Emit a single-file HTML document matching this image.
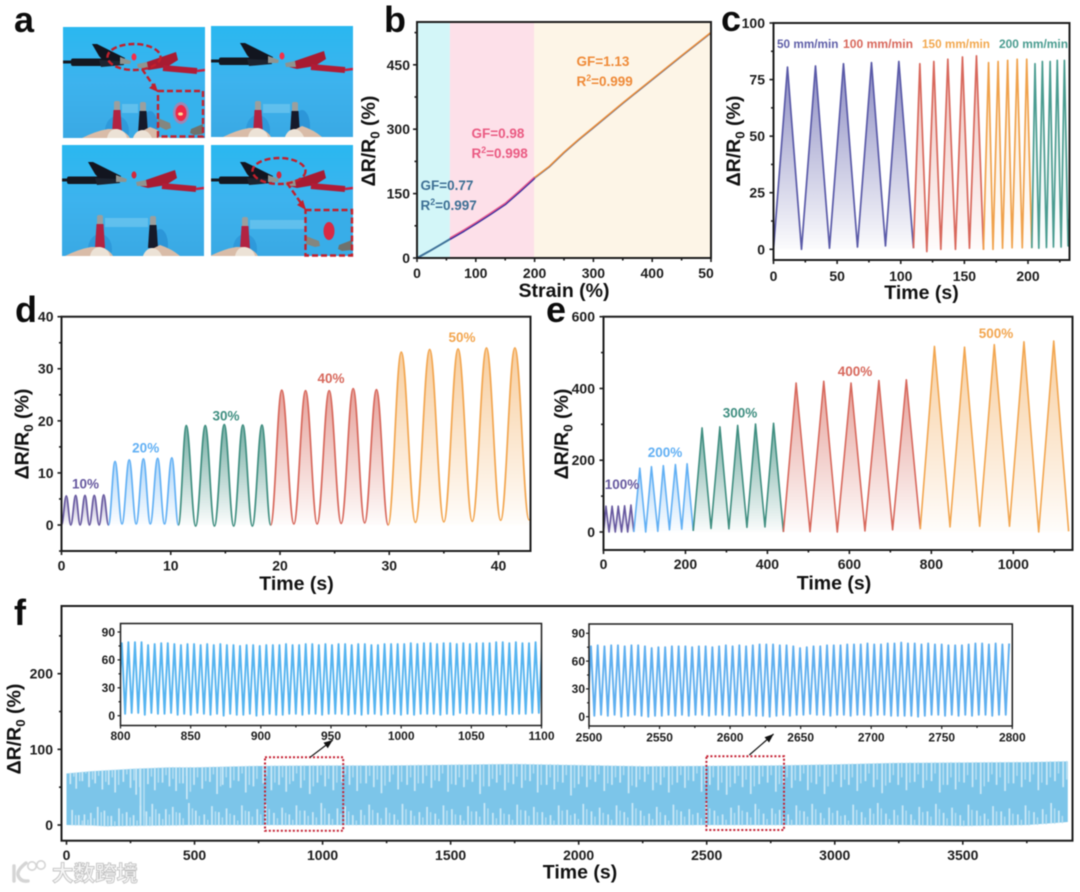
<!DOCTYPE html>
<html lang="en">
<head>
<meta charset="utf-8">
<title>Strain sensor performance figure</title>
<style>
html,body{margin:0;padding:0;background:#fff;}
body{width:1080px;height:892px;overflow:hidden;}
svg{display:block;filter:blur(0.45px);}
text{font-family:"Liberation Sans","Noto Sans CJK SC",sans-serif;font-weight:bold;}
</style>
</head>
<body>
<svg id="figure" xmlns="http://www.w3.org/2000/svg" width="1080" height="892" viewBox="0 0 1080 892">
<defs id="defs"></defs>
<rect x="0" y="0" width="1080" height="892" fill="#ffffff"></rect>
<g id="panel-a"></g>
<g id="panel-b"></g>
<g id="panel-c"></g>
<g id="panel-d"></g>
<g id="panel-e"></g>
<g id="panel-f"></g>
<g>
  <path d="M14,866 L14,881 M26,863 Q17,870 18,875 Q20,882 28,881" fill="none" stroke="#d5d5d5" stroke-width="3.4" stroke-linecap="round"></path>
  <circle cx="32" cy="866" r="4.2" fill="#fff" stroke="#d5d5d5" stroke-width="1.6"></circle>
  <circle cx="41" cy="865" r="4.2" fill="#fff" stroke="#d5d5d5" stroke-width="1.6"></circle>
  <text x="52" y="881" font-size="21.5" fill="#f6f6f6" stroke="#c4c4c4" stroke-width="0.9">大数跨境</text>
</g>
</svg>
<script>
/* ---------- panel b data ---------- */
const bStrain1 = [0, 20, 40, 56];
const bResp1 = [0, 15, 31, 44];
const bStrain2 = [56, 80, 100, 125, 150, 175, 200];
const bResp2 = [44, 63, 80, 102, 125, 155, 186];
const bStrain3 = [200, 225, 250, 275, 300, 350, 400, 450, 500];
const bResp3 = [186, 212, 245, 275, 303, 360, 415, 470, 524];
const bXTicks = [0, 100, 200, 300, 400, 500];
const bXLabels = ['0', '100', '200', '300', '400', '50'];
const bXMinor = [50, 150, 250, 350, 450];
const bYTicks = [0, 150, 300, 450];
const bYLabels = ['0', '150', '300', '450'];
const bYMinor = [75, 225, 375, 525];

/* ---------- panel c data ---------- */
const cPurpleT = [0, 11, 22, 33, 44, 55, 66, 77, 88, 98.5, 110];
const cPurpleV = [0, 80.5, 0, 81, 0.5, 82, 1, 82.5, 1.5, 83, 0.5];
const cRedT = [110, 115, 120.5, 126, 131.5, 137, 143, 148.5, 154, 159.5, 165];
const cRedV = [0.5, 82, -1, 83, 0, 84, 0, 85, 0.5, 85.5, -0.2];
const cOrangeT = [165, 169, 172.5, 176.5, 180, 184, 187.5, 191.5, 195.5, 199, 203];
const cOrangeV = [-0.2, 82.5, 0, 83, 0.5, 83.5, 0.7, 84, 0.7, 84, 0.5];
const cTealT = [203, 205.5, 208.5, 211.3, 214.5, 217.4, 220, 223, 226, 228.6, 231.5, 233];
const cTealV = [0.5, 82, 0.5, 83, 0.8, 83, 1, 83.5, 1, 83.5, 1.5, 20];
const cXTicks = [0, 50, 100, 150, 200];
const cXLabels = ['0', '50', '100', '150', '200'];
const cXMinor = [25, 75, 125, 175, 225];
const cYTicks = [0, 25, 50, 75, 100];
const cYLabels = ['0', '25', '50', '75', '100'];
const cYMinor = [12.5, 37.5, 62.5, 87.5];

/* ---------- panel d data ---------- */
const dPurpleT = [0, 0.44, 0.85, 1.3, 1.7, 2.15, 2.56, 3.0, 3.45, 3.86, 4.3];
const dPurpleV = [0, 5.6, 0, 5.7, 0, 5.7, 0, 5.7, 0, 5.8, 0];
const dBlueT = [4.3, 4.9, 5.54, 6.2, 6.84, 7.5, 8.13, 8.8, 9.43, 10.1, 10.7];
const dBlueV = [0, 12.2, 0.2, 12.5, 0.2, 12.7, 0.2, 12.8, 0.2, 12.9, 0];
const dTealT = [10.7, 11.42, 12.28, 13.16, 14, 14.9, 15.76, 16.6, 17.47, 18.35, 19.15];
const dTealV = [0, 19.1, -0.2, 19.1, -0.2, 19.3, -0.2, 19.2, -0.2, 19.2, 0];
const dRedT = [19.15, 20.16, 21.27, 22.34, 23.4, 24.5, 25.6, 26.7, 27.75, 28.83, 29.9];
const dRedV = [0, 25.9, 0.2, 25.8, 0.2, 25.8, 0.3, 26.2, 0.4, 26, 0];
const dOrangeT = [29.9, 31.1, 32.4, 33.7, 35, 36.3, 37.6, 38.9, 40.2, 41.5, 42.8, 43];
const dOrangeV = [0, 33.2, 0.5, 33.7, 0.6, 33.8, 0.7, 34, 0.9, 34, 1, 1];
const dXTicks = [0, 10, 20, 30, 40];
const dXLabels = ['0', '10', '20', '30', '40'];
const dXMinor = [5, 15, 25, 35];
const dYTicks = [0, 10, 20, 30, 40];
const dYLabels = ['0', '10', '20', '30', '40'];
const dYMinor = [-5, 5, 15, 25, 35];

/* ---------- panel e data ---------- */
const ePurpleT = [0, 6, 13.5, 21, 28.7, 36, 44, 51.5, 59, 67, 74];
const ePurpleV = [0, 72, 0, 72, 0, 72, 0, 73, 0, 75, 0];
const eBlueT = [74, 88.6, 103, 117, 132.5, 146, 161, 175.5, 191, 204, 219];
const eBlueV = [0, 178, 0, 182, 2, 185, 6, 188, 8, 190, 3];
const eTealT = [219, 240.5, 262.4, 284, 306, 327.4, 350, 371, 394, 415, 439];
const eTealV = [3, 290, 10, 293, 9, 297, 13, 301, 14, 303, 0];
const eRedT = [439, 470, 504, 537.5, 570.5, 604, 638, 672, 705.5, 739, 773];
const eRedV = [0, 415, 1, 420, 0, 415, 3, 422, 6, 424, 8];
const eOrangeT = [773, 807.6, 845.6, 881, 918, 953.6, 990.7, 1026, 1062, 1098.7, 1135];
const eOrangeV = [8, 517, 14, 515, 16, 522, 16, 530, 0, 532, 2];
const eXTicks = [0, 200, 400, 600, 800, 1000];
const eXLabels = ['0', '200', '400', '600', '800', '1000'];
const eXMinor = [100, 300, 500, 700, 900, 1100];
const eYTicks = [0, 200, 400, 600];
const eYLabels = ['0', '200', '400', '600'];
const eYMinor = [100, 300, 500];

/* ---------- panel f data ---------- */
const fTimes = [0, 100, 150, 250, 400, 500, 750, 1000, 1250, 1500, 1750, 2000, 2250, 2500, 2750, 3000, 3250, 3500, 3750, 3890, 3910];
const fUpper = [68, 71, 72, 74, 76, 76, 78, 78.5, 78.5, 79.5, 80.5, 79, 77.5, 78, 78.5, 80, 82, 82.5, 83, 84, 84];
const fLower = [0, -0.5, -1.5, -1, -0.5, 0, 0, 0, 0, 0, 0, 0, -0.5, 0, 0, 0, 0, -1, 0, 3.5, 4];
const fTopDipTimes = [
  15, 38, 62, 88, 112, 140, 165, 190, 222, 250,
  272, 289, 318, 345, 375, 402, 428, 455, 470, 498,
  530, 560, 588, 610, 640, 672, 700, 730, 768, 800,
  830, 858, 885, 915, 950, 980, 1010, 1042, 1075, 1105,
  1135, 1170, 1200, 1230, 1262, 1295, 1330, 1360, 1392, 1425,
  1455, 1490, 1520, 1552, 1585, 1615, 1650, 1680, 1712, 1745,
  1778, 1810, 1840, 1875, 1905, 1938, 1970, 2000, 2032, 2065,
  2100, 2130, 2162, 2195, 2225, 2258, 2290, 2320, 2352, 2385,
  2415, 2448, 2480, 2512, 2545, 2578, 2610, 2640, 2672, 2705,
  2738, 2770, 2800, 2832, 2865, 2895, 2928, 2960, 2992, 3025,
  3055, 3088, 3120, 3152, 3185, 3215, 3248, 3280, 3312, 3345,
  3378, 3410, 3440, 3472, 3505, 3538, 3570, 3600, 3632, 3665,
  3698, 3730, 3762, 3795, 3828, 3860, 3892
];
const fTopDipValues = [
  54, 48, 58, 50, 55, 47, 53, 43, 57, 49,
  40, 2, 54, 46, 56, 51, 45, 55, 34, 53,
  48, 57, 41, 53, 49, 58, 43, 51, 55, 46,
  53, 44, 58, 49, 41, 56, 51, 46, 57, 53,
  45, 55, 50, 42, 57, 47, 53, 45, 55, 49,
  58, 44, 53, 50, 57, 41, 51, 56, 46, 54,
  49, 58, 43, 53, 47, 56, 39, 54, 50, 57,
  45, 53, 56, 42, 50, 57, 46, 53, 43, 56,
  49, 58, 44, 53, 46, 40, 55, 50, 41, 54,
  56, 44, 53, 49, 58, 46, 54, 41, 57, 50,
  53, 45, 58, 50, 42, 56, 53, 46, 57, 49,
  58, 43, 53, 47, 56, 50, 41, 57, 53, 45,
  55, 50, 57, 46, 53, 58, 50
];
const fBottomSpikeTimes = [
  22, 48, 70, 95, 122, 148, 175, 205, 235, 262,
  289, 312, 335, 362, 388, 415, 442, 478, 505, 538,
  568, 595, 625, 655, 685, 712, 745, 778, 810, 842,
  870, 898, 930, 962, 995, 1025, 1058, 1088, 1118, 1150,
  1182, 1215, 1248, 1280, 1312, 1345, 1378, 1408, 1440, 1472,
  1505, 1538, 1568, 1600, 1632, 1665, 1695, 1728, 1760, 1792,
  1825, 1858, 1890, 1922, 1955, 1985, 2018, 2050, 2082, 2115,
  2148, 2178, 2210, 2242, 2275, 2305, 2338, 2370, 2400, 2432,
  2465, 2498, 2530, 2562, 2595, 2625, 2658, 2690, 2722, 2755,
  2785, 2818, 2850, 2880, 2912, 2945, 2978, 3010, 3040, 3072,
  3105, 3138, 3168, 3200, 3232, 3265, 3298, 3330, 3362, 3395,
  3425, 3458, 3490, 3522, 3555, 3585, 3618, 3650, 3682, 3715,
  3745, 3778, 3812, 3845, 3875
];
const fBottomSpikeValues = [
  20, 13, 14, 16, 24, 19, 12, 22, 17, 13,
  26, 18, 28, 15, 21, 24, 16, 29, 19, 14,
  25, 17, 22, 13, 26, 18, 21, 28, 16, 23,
  14, 26, 19, 17, 29, 15, 22, 25, 13, 20,
  27, 16, 23, 14, 28, 19, 17, 24, 15, 26,
  21, 13, 25, 18, 29, 16, 22, 14, 27, 19,
  24, 17, 13, 26, 20, 15, 28, 18, 23, 14,
  26, 17, 29, 19, 15, 24, 13, 27, 18, 21,
  16, 29, 19, 14, 23, 26, 17, 28, 15, 22,
  20, 14, 26, 18, 28, 16, 23, 19, 13, 27,
  17, 22, 29, 15, 20, 26, 14, 24, 18, 28,
  16, 23, 13, 27, 19, 15, 25, 18, 22, 14,
  26, 17, 21, 29, 19
];
const fXTicks = [0, 500, 1000, 1500, 2000, 2500, 3000, 3500];
const fXLabels = ['0', '500', '1000', '1500', '2000', '2500', '3000', '3500'];
const fXMinor = [250, 750, 1250, 1750, 2250, 2750, 3250, 3750];
const fYTicks = [0, 100, 200];
const fYLabels = ['0', '100', '200'];
const fYMinor = [50, 150, 250];

/* ---------- inset data: one peak and one trough per cycle ---------- */
const inset1Start = 798.6;
const inset1Period = 4.68;
const inset1Peaks = [
  78, 79, 79, 79, 76, 77, 78, 78, 77, 76,
  77, 77, 76, 77, 76, 77, 76, 76, 75, 76,
  76, 75, 76, 76, 76, 77, 76, 76, 77, 77,
  76, 77, 76, 77, 77, 76, 77, 77, 76, 76,
  77, 77, 77, 77, 78, 77, 78, 78, 77, 78,
  78, 77, 78, 77, 78, 78, 78, 79, 79, 78,
  79, 78, 78, 79, 79
];
const inset1Troughs = [
  3, 2, 3, 3, 1, 3, 2, 2, 3, 1,
  2, 1, 3, 2, 1, 2, 0, 2, 1, 1,
  2, 0, 1, 2, 1, 1, 2, 2, 1, 2,
  2, 1, 2, 2, 2, 1, 2, 1, 2, 2,
  1, 2, 2, 1, 2, 1, 2, 2, 2, 1,
  2, 1, 3, 2, 3, 2, 2, 1, 2, 1,
  2, 2, 2, 3, 3
];
const inset2Start = 2499;
const inset2Period = 4.78;
const inset2Peaks = [
  76, 77, 76, 77, 77, 76, 77, 77, 76, 74,
  75, 75, 76, 76, 76, 75, 76, 76, 75, 76,
  77, 76, 77, 76, 77, 78, 78, 78, 77, 77,
  76, 74, 75, 76, 76, 77, 77, 77, 78, 78,
  78, 79, 78, 78, 79, 79, 80, 79, 79, 78,
  79, 78, 78, 77, 77, 77, 78, 79, 79, 78,
  79, 78, 79
];
const inset2Troughs = [
  3, 1, 2, 1, 2, 0, 1, 2, 1, 0,
  1, 1, 2, 1, 2, 1, 2, 2, 1, 2,
  2, 1, 2, 1, 2, 1, 1, 0, 1, 2,
  1, 2, 2, 3, 2, 2, 1, 2, 2, 1,
  2, 2, 1, 2, 2, 1, 1, 1, 1, 0,
  1, 2, 2, 1, 2, 1, 2, 1, 2, 2,
  1, 2, 2
];
const insetXTicks1 = [800, 850, 900, 950, 1000, 1050, 1100];
const insetXMinor1 = [825, 875, 925, 975, 1025, 1075];
const insetXTicks2 = [2500, 2550, 2600, 2650, 2700, 2750, 2800];
const insetXMinor2 = [2525, 2575, 2625, 2675, 2725, 2775];
const insetYTicks = [0, 30, 60, 90];
const insetYMinor = [15, 45, 75];

/* ---------- helpers ---------- */
const NS = 'http://www.w3.org/2000/svg';
const defs = document.getElementById('defs');
let uid = 0;

function mk(tag, attrs, parent) {
  const el = document.createElementNS(NS, tag);
  for (const k in attrs) el.setAttribute(k, attrs[k]);
  if (parent) parent.appendChild(el);
  return el;
}
function linear(d0, d1, r0, r1) {
  return function (v) { return r0 + (v - d0) * (r1 - r0) / (d1 - d0); };
}
function addText(parent, str, x, y, size, fill, anchor, name) {
  const t = mk('text', { x: x, y: y + size * 0.355, 'font-size': size, fill: fill, 'text-anchor': anchor }, parent);
  t.textContent = str;
  
  
  return t;
}
function panelLetter(parent, str, x, y) {
  const t = mk('text', { x: x, y: y, 'font-size': 36, fill: '#0c0c0c' }, parent);
  t.textContent = str;
  
  
}
function yTitle(parent, cx, cy, size) {
  const t = mk('text', { transform: 'translate(' + cx + ',' + cy + ') rotate(-90)', 'font-size': size, fill: '#111', 'text-anchor': 'middle', y: size * 0.355 }, parent);
  
  
  t.appendChild(document.createTextNode('ΔR/R'));
  const sub = mk('tspan', { dy: size * 0.24, 'font-size': size * 0.68 }, t);
  sub.textContent = '0';
  const rest = mk('tspan', { dy: -size * 0.24 }, t);
  rest.textContent = ' (%)';
}
function rSquared(parent, x, y, size, fill, value) {
  const t = mk('text', { x: x, y: y + size * 0.355, 'font-size': size, fill: fill }, parent);
  
  
  t.appendChild(document.createTextNode('R'));
  const sup = mk('tspan', { dy: -size * 0.35, 'font-size': size * 0.65 }, t);
  sup.textContent = '2';
  const rest = mk('tspan', { dy: size * 0.35 }, t);
  rest.textContent = '=' + value;
}
function drawAxes(parent, o) {
  const g = mk('g', {}, parent);
  
  
  const frame = mk('rect', { x: o.left, y: o.top, width: o.right - o.left, height: o.bottom - o.top, fill: 'none', stroke: '#1c1c1c', 'stroke-width': o.lw }, g);
  
  
  o.xMajor.forEach(function (v, i) {
    const tick = mk('line', { x1: o.x(v), x2: o.x(v), y1: o.bottom, y2: o.bottom + o.major, stroke: '#1c1c1c', 'stroke-width': o.tw }, g);
    
    
    let lx = o.x(v);
    if (o.xLabels[i] === '50' && o.lastLabelShift) lx += o.lastLabelShift;
    addText(g, o.xLabels[i], lx, o.xLabelY, o.font, '#1c1c1c', 'middle', 'x-tick-label');
  });
  o.xMinor.forEach(function (v) {
    const tick = mk('line', { x1: o.x(v), x2: o.x(v), y1: o.bottom, y2: o.bottom + o.minor, stroke: '#1c1c1c', 'stroke-width': o.tw }, g);
    
    
  });
  o.yMajor.forEach(function (v, i) {
    const tick = mk('line', { x1: o.left - o.major, x2: o.left, y1: o.y(v), y2: o.y(v), stroke: '#1c1c1c', 'stroke-width': o.tw }, g);
    
    
    addText(g, o.yLabels[i], o.yLabelX, o.y(v), o.font, '#1c1c1c', 'end', 'y-tick-label');
  });
  o.yMinor.forEach(function (v) {
    const tick = mk('line', { x1: o.left - o.minor, x2: o.left, y1: o.y(v), y2: o.y(v), stroke: '#1c1c1c', 'stroke-width': o.tw }, g);
    
    
  });
}
function clipFor(left, top, right, bottom) {
  const id = 'clip' + (++uid);
  const c = mk('clipPath', { id: id }, defs);
  mk('rect', { x: left, y: top, width: right - left, height: bottom - top }, c);
  return 'url(#' + id + ')';
}
function tracePath(xs, ys, x, y, smooth) {
  let d = 'M' + x(xs[0]) + ',' + y(ys[0]);
  for (let i = 1; i < xs.length; i++) {
    const x0 = x(xs[i - 1]), x1 = x(xs[i]);
    if (smooth) {
      const h = (x1 - x0) * 0.38;
      d += 'C' + (x0 + h) + ',' + y(ys[i - 1]) + ' ' + (x1 - h) + ',' + y(ys[i]) + ' ' + x1 + ',' + y(ys[i]);
    } else {
      d += 'L' + x1 + ',' + y(ys[i]);
    }
  }
  return d;
}
function drawSeries(parent, ts, vs, x, y, color, opts) {
  const g = mk('g', { 'clip-path': opts.clip }, parent);
  
  
  const line = tracePath(ts, vs, x, y, opts.smooth);
  const id = 'grad' + (++uid);
  const grad = mk('linearGradient', { id: id, gradientUnits: 'userSpaceOnUse', x1: 0, x2: 0, y1: y(Math.max.apply(null, vs)), y2: y(0) }, defs);
  mk('stop', { offset: 0, 'stop-color': color, 'stop-opacity': opts.fill }, grad);
  mk('stop', { offset: 1, 'stop-color': color, 'stop-opacity': 0.02 }, grad);
  const area = mk('path', { d: line + 'L' + x(ts[ts.length - 1]) + ',' + y(0) + 'L' + x(ts[0]) + ',' + y(0) + 'Z', fill: 'url(#' + id + ')' }, g);
  
  
  const stroke = mk('path', { d: line, fill: 'none', stroke: color, 'stroke-width': opts.width, 'stroke-linejoin': 'round' }, g);
  
  
}

/* ---------- panel a ---------- */
function drawPhoto(parent, name, ox, oy, p) {
  const g = mk('g', { transform: 'translate(' + ox + ',' + oy + ')', 'clip-path': 'url(#photo-clip)' }, parent);
  
  
  mk('rect', { x: 0, y: 0, width: 142, height: 111, fill: 'url(#photo-bg)' }, g);
  const dx = p.clipDx;
  const shift = function (pts) { return pts.map(function (v, i) { return i % 2 ? v : v + dx; }).join(','); };
  /* black alligator clip */
  mk('line', { x1: 0, y1: 35, x2: 12 + dx, y2: 35, stroke: '#141a24', 'stroke-width': 3 }, g);
  mk('rect', { x: 8 + dx, y: 31.5, width: 34, height: 7.5, rx: 2, fill: '#141821' }, g);
  mk('polygon', { points: shift([29, 17, 34, 17, 62, 31, 60, 37, 44, 38, 36, 29]), fill: '#12151f' }, g);
  mk('polygon', { points: shift([36, 33, 60, 34, 61, 38, 38, 40]), fill: '#1d2430' }, g);
  mk('polygon', { points: shift([57, 30, 68, 34, 67, 37, 57, 37]), fill: '#8f9490' }, g);
  /* red alligator clip */
  mk('polygon', { points: '78,37 113,25 115,33 104,40 86,43 78,41', fill: '#a81b32' }, g);
  mk('polygon', { points: '74,37 84,35 85,41 75,41', fill: '#8f9490' }, g);
  mk('path', { d: 'M100,41 L134,44', fill: 'none', stroke: '#b01c36', 'stroke-width': 6 }, g);
  mk('path', { d: 'M134,44 L142,43', fill: 'none', stroke: '#c92240', 'stroke-width': 2.5 }, g);
  mk('ellipse', { cx: 71 + p.ledDx, cy: 30, rx: 2.5, ry: 3.6, fill: p.lit ? '#f5304a' : '#d4283c' }, g);
  /* hand shadow */
  mk('ellipse', { cx: p.red + 5, cy: 104, rx: 12, ry: 15, fill: '#1d7fca', opacity: 0.4 }, g);
  mk('ellipse', { cx: p.black + 12, cy: 100, rx: 8, ry: 16, fill: '#1d7fca', opacity: 0.5 }, g);
  /* sample strip between probes */
  mk('rect', { x: p.red + 10, y: p.tip + 3, width: p.black - p.red - 10, height: 9, fill: '#8fd4f2', opacity: 0.45 }, g);
  /* probes */
  mk('rect', { x: p.red + 2, y: p.tip, width: 6, height: 11, fill: '#9b9f9e', rx: 2 }, g);
  mk('rect', { x: p.black + 2, y: p.tip + 1, width: 6, height: 11, fill: '#9b9f9e', rx: 2 }, g);
  mk('polygon', { points: (p.red + 1.5) + ',' + (p.tip + 9) + ' ' + (p.red + 8.5) + ',' + (p.tip + 9) + ' ' + (p.red + 10) + ',' + (p.tip + 33) + ' ' + p.red + ',' + (p.tip + 33), fill: '#b22342' }, g);
  mk('polygon', { points: (p.black + 1.5) + ',' + (p.tip + 10) + ' ' + (p.black + 8.5) + ',' + (p.tip + 10) + ' ' + (p.black + 10) + ',' + (p.tip + 33) + ' ' + p.black + ',' + (p.tip + 33), fill: '#161a2a' }, g);
  /* fingers */
  mk('path', { d: 'M' + (p.red - 30) + ',111 Q' + (p.red - 16) + ',104 ' + (p.red - 4) + ',102 L' + (p.red + 4) + ',102 Q' + (p.red + 14) + ',104 ' + (p.red + 18) + ',111 Z', fill: '#d9bca8' }, g);
  mk('path', { d: 'M' + (p.red - 5) + ',111 Q' + (p.red - 3) + ',102 ' + (p.red + 5) + ',102 Q' + (p.red + 13) + ',103 ' + (p.red + 15) + ',111 Z', fill: '#ece2d6' }, g);
  mk('path', { d: 'M' + (p.black - 5) + ',111 Q' + (p.black - 2) + ',103 ' + (p.black + 6) + ',103 L' + (p.black + 12) + ',100 Q' + (p.black + 24) + ',104 ' + (p.black + 32) + ',111 Z', fill: '#d9bca8' }, g);
  mk('path', { d: 'M' + (p.black - 5) + ',111 Q' + (p.black - 2) + ',103 ' + (p.black + 5) + ',103 Q' + (p.black + 11) + ',104 ' + (p.black + 14) + ',111 Z', fill: '#ece2d6' }, g);
}
(function () {
  const a = document.getElementById('panel-a');
  panelLetter(a, 'a', 14, 32);
  const bg = mk('linearGradient', { id: 'photo-bg', x1: 0, x2: 0, y1: 0, y2: 1 }, defs);
  mk('stop', { offset: 0, 'stop-color': '#2ab8f0' }, bg);
  mk('stop', { offset: 0.5, 'stop-color': '#3db3ee' }, bg);
  mk('stop', { offset: 1, 'stop-color': '#3aa9e4' }, bg);
  const pc = mk('clipPath', { id: 'photo-clip' }, defs);
  mk('rect', { x: 0, y: 0, width: 142, height: 111 }, pc);
  drawPhoto(a, 'photo-released-lit', 63, 27, { clipDx: 0, ledDx: 0, lit: true, red: 49, black: 75, tip: 74 });
  drawPhoto(a, 'photo-stretched-slightly', 211, 26, { clipDx: 0, ledDx: 0, lit: true, red: 42, black: 79, tip: 75 });
  drawPhoto(a, 'photo-stretched-more', 62, 145, { clipDx: -3, ledDx: 1, lit: false, red: 33, black: 86, tip: 70 });
  drawPhoto(a, 'photo-stretched-max', 211, 145, { clipDx: 0, ledDx: -3, lit: false, red: 29, black: 150, tip: 72 });

  const red = '#c3202c';
  const dashed = { fill: 'none', stroke: red, 'stroke-width': 2.4, 'stroke-dasharray': '6 3' };
  const addDash = function (tag, attrs, name) {
    const el = mk(tag, Object.assign({}, dashed, attrs), a);
    
    
    return el;
  };
  /* zoom detail in photo 1 */
  const z1 = mk('g', {}, a);
  
  
  mk('rect', { x: 158, y: 91, width: 45, height: 46, fill: '#36b2ec' }, z1);
  mk('ellipse', { cx: 181, cy: 113, rx: 8, ry: 11, fill: '#ff5d80', opacity: 0.5 }, z1);
  mk('ellipse', { cx: 181, cy: 113, rx: 5.5, ry: 8, fill: '#f02848' }, z1);
  mk('ellipse', { cx: 180.5, cy: 114, rx: 2.4, ry: 1.6, fill: '#ffd890' }, z1);
  mk('polygon', { points: '158,118 170,123 171,128 166,130 158,126', fill: '#84867f' }, z1);
  mk('polygon', { points: '203,124 191,129 190,133 194,135 203,134', fill: '#6f726c' }, z1);
  /* zoom detail in photo 4 */
  const z2 = mk('g', {}, a);
  
  
  mk('rect', { x: 305, y: 210, width: 47, height: 46, fill: '#38ade8' }, z2);
  mk('ellipse', { cx: 329, cy: 231, rx: 5.5, ry: 9, fill: '#d82a44' }, z2);
  mk('polygon', { points: '306,236 319,241 320,246 315,247 306,244', fill: '#84867f' }, z2);
  mk('polygon', { points: '352,240 339,245 338,249 342,251 352,250', fill: '#6f726c' }, z2);
  addDash('ellipse', { cx: 134, cy: 57, rx: 26.5, ry: 13 }, 'highlight-ellipse-lit');
  addDash('ellipse', { cx: 279, cy: 171, rx: 26.5, ry: 13 }, 'highlight-ellipse-dim');
  addDash('path', { d: 'M142,69 L155,88' }, 'zoom-arrow-lit');
  addDash('path', { d: 'M287,183 L303,206' }, 'zoom-arrow-dim');
  const ah1 = mk('polygon', { points: '158,92 149,88 155,83', fill: red }, a);
  
  
  const ah2 = mk('polygon', { points: '306,210 297,205 303,200', fill: red }, a);
  
  
  addDash('rect', { x: 158, y: 91, width: 45, height: 45.5 }, 'zoom-frame-lit');
  addDash('rect', { x: 305.5, y: 210, width: 46.5, height: 45.5 }, 'zoom-frame-dim');
})();

/* ---------- panel b ---------- */
(function () {
  const p = document.getElementById('panel-b');
  const left = 417, right = 711, top = 22, bottom = 258;
  const x = linear(0, 500, left, right);
  const y = linear(0, 150, bottom, 193.6);
  const bands = [[0, 56, '#d3f6f8', 'region-low-strain'], [56, 199, '#fde0e9', 'region-mid-strain'], [199, 500, '#fdf5e7', 'region-high-strain']];
  bands.forEach(function (b) {
    const r = mk('rect', { x: x(b[0]), y: top, width: x(b[1]) - x(b[0]), height: bottom - top, fill: b[2] }, p);
    
    
  });
  const clip = clipFor(left, top, right, bottom);
  const cg = mk('g', { 'clip-path': clip, fill: 'none', 'stroke-linejoin': 'round' }, p);
  
  
  const seg1 = mk('path', { d: tracePath(bStrain1, bResp1, x, y, false), stroke: '#3e7198', 'stroke-width': 2 }, cg);
  
  
  const seg2a = mk('path', { d: tracePath(bStrain2, bResp2, x, y, false), stroke: '#2a2ba0', 'stroke-width': 2 }, cg);
  
  
  const seg2b = mk('path', { d: tracePath(bStrain2, bResp2.map(function (v) { return v + 2.5; }), x, y, false), stroke: '#e4538a', 'stroke-width': 1.4 }, cg);
  
  
  const seg3a = mk('path', { d: tracePath(bStrain3, bResp3, x, y, false), stroke: '#3e5f9c', 'stroke-width': 1.4 }, cg);
  
  
  const seg3b = mk('path', { d: tracePath(bStrain3, bResp3.map(function (v) { return v + 1.5; }), x, y, false), stroke: '#ec8c36', 'stroke-width': 1.5 }, cg);
  
  

  addText(p, 'GF=0.77', 420.5, 185, 13.5, '#3d6f94', 'start', 'gf-low-annotation');
  rSquared(p, 420.5, 205, 13.5, '#3d6f94', '0.997');
  addText(p, 'GF=0.98', 471.5, 133, 13.5, '#ea5a82', 'start', 'gf-mid-annotation');
  rSquared(p, 471.5, 153, 13.5, '#ea5a82', '0.998');
  addText(p, 'GF=1.13', 576.5, 61, 13.5, '#ef8a38', 'start', 'gf-high-annotation');
  rSquared(p, 576.5, 81, 13.5, '#ef8a38', '0.999');

  drawAxes(p, { x: x, y: y, left: left, right: right, top: top, bottom: bottom, xMajor: bXTicks, xLabels: bXLabels, xMinor: bXMinor, yMajor: bYTicks, yLabels: bYLabels, yMinor: bYMinor, font: 14, lw: 2, tw: 1.6, major: 4, minor: 2.5, xLabelY: 273, yLabelX: 410, lastLabelShift: -5 });
  yTitle(p, 368, 141, 19.5);
  addText(p, 'Strain (%)', 564, 290, 19.5, '#111', 'middle', 'x-axis-title');
  panelLetter(p, 'b', 384, 32);
})();

/* ---------- panel c ---------- */
(function () {
  const p = document.getElementById('panel-c');
  const left = 773.5, right = 1069.5, top = 23, bottom = 260;
  const x = linear(0, 200, left, 1028);
  const y = linear(0, 100, 249.3, 23);
  const clip = clipFor(left, top, right, bottom);
  drawSeries(p, cPurpleT, cPurpleV, x, y, '#5a5aa8', { clip: clip, fill: 0.7, width: 1.7, name: 'series-50-mm-min' });
  drawSeries(p, cRedT, cRedV, x, y, '#d8685c', { clip: clip, fill: 0.42, width: 1.7, name: 'series-100-mm-min' });
  drawSeries(p, cOrangeT, cOrangeV, x, y, '#f0a24c', { clip: clip, fill: 0.22, width: 1.7, name: 'series-150-mm-min' });
  drawSeries(p, cTealT, cTealV, x, y, '#4a9c90', { clip: clip, fill: 0.14, width: 1.7, name: 'series-200-mm-min' });
  const label = function (str, lx, w, color, name) {
    const t = addText(p, str, lx, 43.5, 12, color, 'start', name);
    t.setAttribute('textLength', w);
    t.setAttribute('lengthAdjust', 'spacingAndGlyphs');
  };
  label('50 mm/min', 777, 61.5, '#5f5fa8', 'label-50-mm-min');
  label('100 mm/min', 843, 70, '#d8685c', 'label-100-mm-min');
  label('150 mm/min', 922, 68, '#f2a84f', 'label-150-mm-min');
  label('200 mm/min', 999, 69, '#4a9c90', 'label-200-mm-min');
  drawAxes(p, { x: x, y: y, left: left, right: right, top: top, bottom: bottom, xMajor: cXTicks, xLabels: cXLabels, xMinor: cXMinor, yMajor: cYTicks, yLabels: cYLabels, yMinor: cYMinor, font: 14, lw: 2, tw: 1.6, major: 4, minor: 2.5, xLabelY: 276, yLabelX: 765 });
  yTitle(p, 733, 141, 19.5);
  addText(p, 'Time (s)', 921.5, 292, 19.5, '#111', 'middle', 'x-axis-title');
  panelLetter(p, 'c', 721, 31);
})();

/* ---------- panel d ---------- */
(function () {
  const p = document.getElementById('panel-d');
  const left = 61.5, right = 530.5, top = 316.7, bottom = 551;
  const x = linear(0, 40, left, 498.5);
  const y = linear(0, 40, 525, 316.7);
  const clip = clipFor(left, top, right, bottom);
  const o = { clip: clip, smooth: true, width: 1.7 };
  drawSeries(p, dPurpleT, dPurpleV, x, y, '#66589f', Object.assign({ fill: 0.5, name: 'series-10-percent' }, o));
  drawSeries(p, dBlueT, dBlueV, x, y, '#62b0f4', Object.assign({ fill: 0.5, name: 'series-20-percent' }, o));
  drawSeries(p, dTealT, dTealV, x, y, '#3f8e80', Object.assign({ fill: 0.72, name: 'series-30-percent' }, o));
  drawSeries(p, dRedT, dRedV, x, y, '#d7685c', Object.assign({ fill: 0.62, name: 'series-40-percent' }, o));
  drawSeries(p, dOrangeT, dOrangeV, x, y, '#f2a650', Object.assign({ fill: 0.55, name: 'series-50-percent' }, o));
  addText(p, '10%', 85.5, 483.7, 13.5, '#66589f', 'middle', 'label-10-percent');
  addText(p, '20%', 145.7, 447.7, 13.5, '#62b0f4', 'middle', 'label-20-percent');
  addText(p, '30%', 226, 415.7, 13.5, '#3f8e80', 'middle', 'label-30-percent');
  addText(p, '40%', 331, 378, 13.5, '#d7685c', 'middle', 'label-40-percent');
  addText(p, '50%', 462, 337, 13.5, '#f2a650', 'middle', 'label-50-percent');
  drawAxes(p, { x: x, y: y, left: left, right: right, top: top, bottom: bottom, xMajor: dXTicks, xLabels: dXLabels, xMinor: dXMinor, yMajor: dYTicks, yLabels: dYLabels, yMinor: dYMinor, font: 14, lw: 2, tw: 1.6, major: 4, minor: 2.5, xLabelY: 565.5, yLabelX: 53.5 });
  yTitle(p, 21.5, 434, 19.5);
  addText(p, 'Time (s)', 296.5, 583, 19.5, '#111', 'middle', 'x-axis-title');
  panelLetter(p, 'd', 15, 322);
})();

/* ---------- panel e ---------- */
(function () {
  const p = document.getElementById('panel-e');
  const left = 603.5, right = 1072.5, top = 316.7, bottom = 550;
  const x = linear(0, 1000, left, 1013.3);
  const y = linear(0, 600, 532, 316.7);
  const clip = clipFor(left, top, right, bottom);
  const o = { clip: clip, width: 1.6 };
  drawSeries(p, ePurpleT, ePurpleV, x, y, '#66589f', Object.assign({ fill: 0.5, name: 'series-100-percent' }, o));
  drawSeries(p, eBlueT, eBlueV, x, y, '#62b0f4', Object.assign({ fill: 0.5, name: 'series-200-percent' }, o));
  drawSeries(p, eTealT, eTealV, x, y, '#3f8e80', Object.assign({ fill: 0.72, name: 'series-300-percent' }, o));
  drawSeries(p, eRedT, eRedV, x, y, '#d7685c', Object.assign({ fill: 0.62, name: 'series-400-percent' }, o));
  drawSeries(p, eOrangeT, eOrangeV, x, y, '#f2a650', Object.assign({ fill: 0.55, name: 'series-500-percent' }, o));
  addText(p, '100%', 622, 484, 13.5, '#66589f', 'middle', 'label-100-percent');
  addText(p, '200%', 665, 452, 13.5, '#62b0f4', 'middle', 'label-200-percent');
  addText(p, '300%', 740, 412.7, 13.5, '#3f8e80', 'middle', 'label-300-percent');
  addText(p, '400%', 855, 371, 13.5, '#d7685c', 'middle', 'label-400-percent');
  addText(p, '500%', 996, 333, 13.5, '#f2a650', 'middle', 'label-500-percent');
  drawAxes(p, { x: x, y: y, left: left, right: right, top: top, bottom: bottom, xMajor: eXTicks, xLabels: eXLabels, xMinor: eXMinor, yMajor: eYTicks, yLabels: eYLabels, yMinor: eYMinor, font: 14, lw: 2, tw: 1.6, major: 4, minor: 2.5, xLabelY: 564, yLabelX: 595 });
  yTitle(p, 561, 434, 19.5);
  addText(p, 'Time (s)', 834, 582.7, 19.5, '#111', 'middle', 'x-axis-title');
  panelLetter(p, 'e', 546, 322);
})();

/* ---------- panel f ---------- */
function drawInset(parent, name, box, domain, start, period, peaks, troughs, color, xTicks, xMinor, xLabelY, yLabelX) {
  const g = mk('g', {}, parent);
  
  
  const x = linear(domain[0], domain[1], box.left, box.right);
  const y = linear(0, 90, box.y0, box.y90);
  const ts = [], vs = [];
  peaks.forEach(function (pk, i) {
    ts.push(start + i * period);
    vs.push(troughs[i]);
    ts.push(start + (i + 0.5) * period);
    vs.push(pk);
  });
  const clip = clipFor(box.left, box.top, box.right, box.bottom);
  const trace = mk('path', { d: tracePath(ts, vs, x, y, false), fill: 'none', stroke: color, 'stroke-width': 1.9, 'clip-path': clip, 'stroke-linejoin': 'round' }, g);
  
  
  drawAxes(g, { x: x, y: y, left: box.left, right: box.right, top: box.top, bottom: box.bottom, xMajor: xTicks, xLabels: xTicks.map(String), xMinor: xMinor, yMajor: insetYTicks, yLabels: insetYTicks.map(String), yMinor: insetYMinor, font: 12, lw: 1.5, tw: 1.2, major: 3, minor: 2, xLabelY: xLabelY, yLabelX: yLabelX });
}
(function () {
  const p = document.getElementById('panel-f');
  const left = 61.5, right = 1072.5, top = 606, bottom = 840.7;
  const x = linear(0, 3500, 66.5, 962.8);
  const y = linear(0, 200, 825, 673.7);
  const clip = clipFor(left, top, right, bottom);
  const g = mk('g', { 'clip-path': clip }, p);
  
  
  let d = 'M' + x(fTimes[0]) + ',' + y(fUpper[0]);
  fTimes.forEach(function (t, i) { d += 'L' + x(t) + ',' + y(fUpper[i]); });
  for (let i = fTimes.length - 1; i >= 0; i--) d += 'L' + x(fTimes[i]) + ',' + y(fLower[i]);
  const band = mk('path', { d: d + 'Z', fill: '#7cc5e9' }, g);
  
  
  const interp = function (arr, t) {
    for (let i = 1; i < fTimes.length; i++) {
      if (t <= fTimes[i]) {
        const f = (t - fTimes[i - 1]) / (fTimes[i] - fTimes[i - 1]);
        return arr[i - 1] + f * (arr[i] - arr[i - 1]);
      }
    }
    return arr[arr.length - 1];
  };
  fTopDipTimes.forEach(function (t, i) {
    const dip = mk('line', { x1: x(t), x2: x(t), y1: y(interp(fUpper, t)) - 0.5, y2: y(fTopDipValues[i]), stroke: '#cbe8f6', 'stroke-width': 1.7 }, g);
    
    
    const soft = mk('line', { x1: x(t) + 3.5, x2: x(t) + 3.5, y1: y(interp(fUpper, t)) - 0.5, y2: y(fTopDipValues[i] + 10), stroke: '#b6def2', 'stroke-width': 1.5 }, g);
    
    
  });
  fBottomSpikeTimes.forEach(function (t, i) {
    const spike = mk('line', { x1: x(t), x2: x(t), y1: y(interp(fLower, t)) + 0.5, y2: y(fBottomSpikeValues[i]), stroke: '#cbe8f6', 'stroke-width': 1.7 }, g);
    
    
    const soft = mk('line', { x1: x(t) + 3.5, x2: x(t) + 3.5, y1: y(interp(fLower, t)) + 0.5, y2: y(fBottomSpikeValues[i] - 7), stroke: '#b6def2', 'stroke-width': 1.5 }, g);
    
    
  });
  drawAxes(p, { x: x, y: y, left: left, right: right, top: top, bottom: bottom, xMajor: fXTicks, xLabels: fXLabels, xMinor: fXMinor, yMajor: fYTicks, yLabels: fYLabels, yMinor: fYMinor, font: 14, lw: 2, tw: 1.6, major: 4, minor: 2.5, xLabelY: 855, yLabelX: 53 });

  drawInset(p, 'inset-800-1100', { left: 120.5, right: 541.5, top: 623.5, bottom: 725.5, y0: 715.7, y90: 632 }, [800, 1100], inset1Start, inset1Period, inset1Peaks, inset1Troughs, '#55b4f0', insetXTicks1, insetXMinor1, 735.7, 115);
  drawInset(p, 'inset-2500-2800', { left: 589, right: 1012.3, top: 624, bottom: 726, y0: 716.7, y90: 633.3 }, [2500, 2800], inset2Start, inset2Period, inset2Peaks, inset2Troughs, '#5fafef', insetXTicks2, insetXMinor2, 737, 585);

  const addBox = function (bx, by, bw, bh, name) {
    const r = mk('rect', { x: bx, y: by, width: bw, height: bh, fill: 'none', stroke: '#c41e30', 'stroke-width': 2, 'stroke-dasharray': '2 2' }, p);
    
    
  };
  addBox(265, 757.3, 78.2, 73.4, 'zoom-box-800-1100');
  addBox(706.4, 756.3, 77.6, 73.7, 'zoom-box-2500-2800');

  const addArrow = function (x1, y1, x2, y2, name) {
    const line = mk('line', { x1: x1, y1: y1, x2: x2, y2: y2, stroke: '#111', 'stroke-width': 1.2 }, p);
    
    
    const ang = Math.atan2(y2 - y1, x2 - x1);
    const px = function (l, w) { return (x2 - l * Math.cos(ang) + w * Math.sin(ang)) + ',' + (y2 - l * Math.sin(ang) - w * Math.cos(ang)); };
    const head = mk('polygon', { points: x2 + ',' + y2 + ' ' + px(9, 3.5) + ' ' + px(9, -3.5), fill: '#111' }, p);
    
    
  };
  addArrow(310, 757.3, 332.8, 740, 'arrow-to-inset-800-1100');
  addArrow(749.3, 755, 773.6, 734, 'arrow-to-inset-2500-2800');

  yTitle(p, 13.5, 729, 19.5);
  addText(p, 'Time (s)', 580, 871.7, 19.5, '#111', 'middle', 'x-axis-title');
  panelLetter(p, 'f', 14, 625);
})();
</script>
</body>
</html>
